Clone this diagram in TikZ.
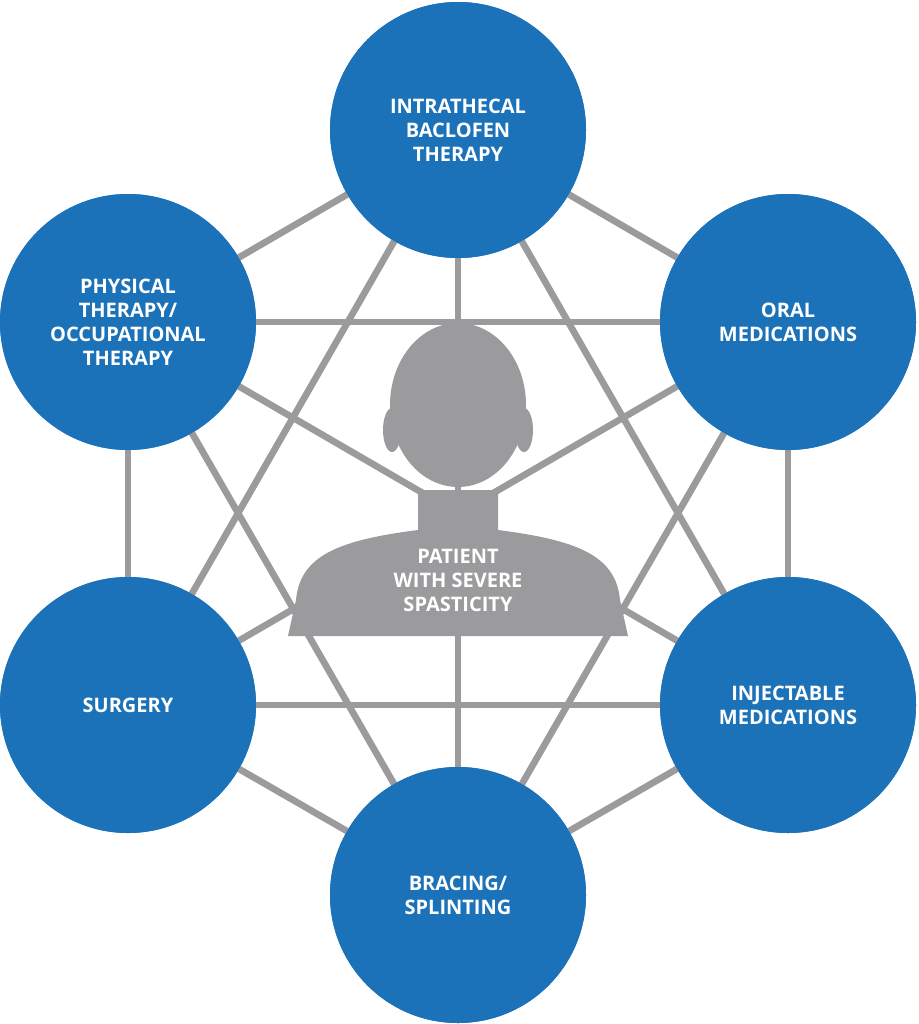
\documentclass[tikz,border=0pt]{standalone}
\usepackage{fontspec}
\setmainfont{Open Sans}
\definecolor{spblue}{HTML}{1C72B8}
\definecolor{spgray}{HTML}{9B9B9D}
\begin{document}
\begin{tikzpicture}[x=0.75pt,y=-0.75pt,
  therapy/.style={circle,fill=spblue,minimum size=192pt,inner sep=0pt,
    text=white,font=\bfseries\fontsize{15}{18}\selectfont,align=center},
  link/.style={spgray,line width=5pt}]
\useasboundingbox (0,0) rectangle (918,1024);
% six therapies
\node[therapy] (itb) at (458,130) {INTRATHECAL\\BACLOFEN\\THERAPY};
\node[therapy] (oral) at (788,322) {ORAL\\MEDICATIONS};
\node[therapy] (inj) at (788,705) {INJECTABLE\\MEDICATIONS};
\node[therapy] (brace) at (458,895) {BRACING/\\SPLINTING};
\node[therapy] (surg) at (128,705) {SURGERY};
\node[therapy] (pt) at (128,322) {PHYSICAL\\THERAPY/\\OCCUPATIONAL\\THERAPY};
% every pair is linked
\begin{scope}[on background layer/.style={}]
\foreach \a/\b in {itb/oral,itb/inj,itb/brace,itb/surg,itb/pt,
  oral/inj,oral/brace,oral/surg,oral/pt,inj/brace,inj/surg,inj/pt,
  brace/surg,brace/pt,surg/pt}
  \draw[link] (\a.center) -- (\b.center);
\end{scope}
% patient
\fill[spgray] (418,490) -- (418,530) .. controls (340,540) and (300,555) .. (296,600)
  -- (288,636) -- (628,636) -- (620,600) .. controls (616,555) and (576,540) .. (498,530)
  -- (498,490) -- cycle;
\fill[spgray] (458,405) ellipse [x radius=68, y radius=82];
\fill[spgray] (392,430) ellipse [x radius=9, y radius=22];
\fill[spgray] (524,430) ellipse [x radius=9, y radius=22];
\node[text=white,font=\bfseries\fontsize{15}{18}\selectfont,align=center]
  (patient) at (458,580) {PATIENT\\WITH SEVERE\\SPASTICITY};
% redraw circles on top
\foreach \n/\p in {itb/{(458,130)},oral/{(788,322)},inj/{(788,705)},
  brace/{(458,895)},surg/{(128,705)},pt/{(128,322)}}
  \fill[spblue] \p circle (128);
\node[therapy,fill=none] at (itb) {INTRATHECAL\\BACLOFEN\\THERAPY};
\node[therapy,fill=none] at (oral) {ORAL\\MEDICATIONS};
\node[therapy,fill=none] at (inj) {INJECTABLE\\MEDICATIONS};
\node[therapy,fill=none] at (brace) {BRACING/\\SPLINTING};
\node[therapy,fill=none] at (surg) {SURGERY};
\node[therapy,fill=none] at (pt) {PHYSICAL\\THERAPY/\\OCCUPATIONAL\\THERAPY};
\end{tikzpicture}
\end{document}
